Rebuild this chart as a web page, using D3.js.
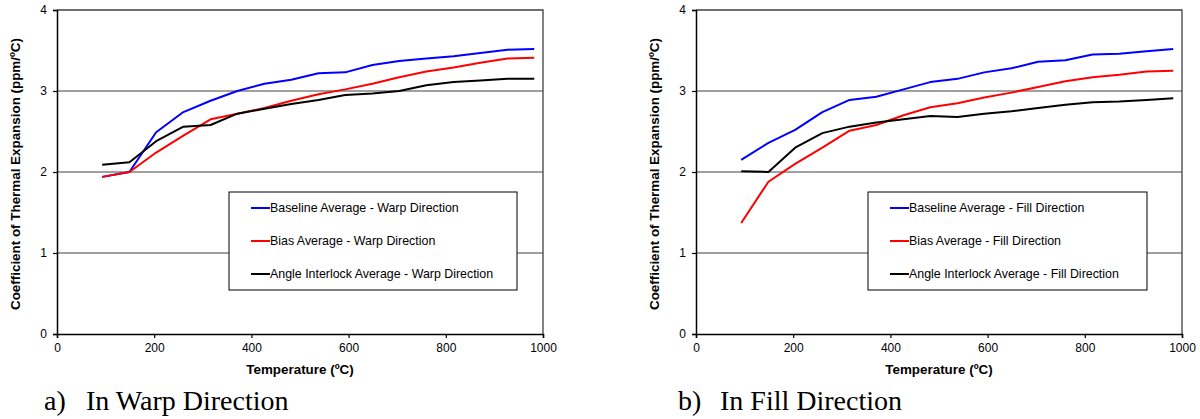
<!DOCTYPE html>
<html>
<head>
<meta charset="utf-8">
<script src="https://cdn.jsdelivr.net/npm/d3@7"></script>
<style>
  body { margin: 0; background: #fff; }
  text { font-family: "Liberation Sans", Arial, sans-serif; }
  .tick text { font-size: 12px; fill: #000; }
  .axis-title { font-size: 13.4px; font-weight: bold; }
  .legend text { font-size: 12.4px; }
  .caption { font-family: "Liberation Serif", "Times New Roman", serif; font-size: 28px; }
</style>
</head>
<body>
<div id="chart"></div>
<script>

// temperatures (ºC) where the averages were taken
var temps = [93, 149, 204, 260, 316, 371, 427, 482, 538, 593, 649, 704, 760, 816, 871, 927, 982];

// warp direction
var baselineWarp = [1.94, 2.00, 2.49, 2.74, 2.88, 3.00, 3.09, 3.14, 3.22, 3.23, 3.32, 3.37, 3.40, 3.43, 3.47, 3.51, 3.52];
var biasWarp     = [1.94, 2.00, 2.24, 2.45, 2.65, 2.72, 2.79, 2.88, 2.96, 3.02, 3.09, 3.17, 3.24, 3.29, 3.35, 3.40, 3.41];
var angleWarp    = [2.09, 2.12, 2.38, 2.56, 2.58, 2.72, 2.78, 2.84, 2.89, 2.95, 2.97, 3.00, 3.07, 3.11, 3.13, 3.15, 3.15];

// fill direction
var baselineFill = [2.15, 2.36, 2.52, 2.74, 2.89, 2.93, 3.02, 3.11, 3.15, 3.23, 3.28, 3.36, 3.38, 3.45, 3.46, 3.49, 3.52];
var biasFill     = [1.37, 1.88, 2.10, 2.30, 2.51, 2.58, 2.70, 2.80, 2.85, 2.92, 2.98, 3.05, 3.12, 3.17, 3.20, 3.24, 3.25];
var angleFill    = [2.01, 2.00, 2.30, 2.48, 2.56, 2.61, 2.65, 2.69, 2.68, 2.72, 2.75, 2.79, 2.83, 2.86, 2.87, 2.89, 2.91];

var xTicks = [0, 200, 400, 600, 800, 1000];
var yTicks = [0, 1, 2, 3, 4];

var warpNames = ["Baseline Average - Warp Direction", "Bias Average - Warp Direction", "Angle Interlock Average - Warp Direction"];
var fillNames = ["Baseline Average - Fill Direction", "Bias Average - Fill Direction", "Angle Interlock Average - Fill Direction"];
var colors = ["#0000ff", "#ff0000", "#000000"];

var width = 486,
    height = 324;

var svg = d3.select("#chart").append("svg")
    .attr("width", 1200)
    .attr("height", 419);

function panel(left, names, series, legendWidth, caption, captionX) {

  var x = d3.scaleLinear()
      .domain([0, 1000])
      .range([0, width]);

  var y = d3.scaleLinear()
      .domain([0, 4])
      .range([height, 0]);

  var g = svg.append("g")
      .attr("transform", "translate(" + left + ",10)");

  // gridlines
  g.append("g").selectAll("line")
      .data(yTicks.filter(function(d) { return d > 0 && d < 4; }))
    .enter().append("line")
      .attr("x1", 0)
      .attr("x2", width)
      .attr("y1", function(d) { return y(d); })
      .attr("y2", function(d) { return y(d); })
      .style("stroke", "#808080")
      .style("stroke-width", 1.4);

  // plot frame (top and right)
  g.append("path")
      .attr("d", "M0,0H" + width + "V" + height)
      .style("fill", "none")
      .style("stroke", "#404040")
      .style("stroke-width", 1.3);

  g.append("g")
      .attr("class", "y axis")
      .call(d3.axisLeft(y).tickValues(yTicks).tickSize(4).tickPadding(6).tickFormat(d3.format("d")));

  g.append("g")
      .attr("class", "x axis")
      .attr("transform", "translate(0," + height + ")")
      .call(d3.axisBottom(x).tickValues(xTicks).tickSize(4).tickPadding(5).tickFormat(d3.format("d")));

  g.selectAll(".axis .domain").style("stroke", "#000").style("stroke-width", 1.5);
  g.selectAll(".axis .tick line").style("stroke", "#000").style("stroke-width", 1.2);

  g.append("text")
      .attr("class", "axis-title")
      .attr("x", width / 2)
      .attr("y", height + 40)
      .style("text-anchor", "middle")
      .text("Temperature (ºC)");

  g.append("text")
      .attr("class", "axis-title")
      .attr("transform", "rotate(-90)")
      .attr("x", -height / 2 - 2)
      .attr("y", -37)
      .style("text-anchor", "middle")
      .text("Coefficient of Thermal Expansion (ppm/ºC)");

  var line = d3.line()
      .x(function(d, i) { return x(temps[i]); })
      .y(function(d) { return y(d); });

  g.append("g").selectAll(".series")
      .data(series)
    .enter().append("path")
      .attr("class", "series")
      .attr("d", line)
      .style("fill", "none")
      .style("stroke", function(d, i) { return colors[i]; })
      .style("stroke-width", 2)
      .style("stroke-linejoin", "round");

  // legend
  var legend = g.append("g")
      .attr("class", "legend")
      .attr("transform", "translate(172,182)");

  legend.append("rect")
      .attr("width", legendWidth)
      .attr("height", 98)
      .style("fill", "#fff")
      .style("stroke", "#000")
      .style("stroke-width", 1);

  var item = legend.selectAll(".item")
      .data(names)
    .enter().append("g")
      .attr("class", "item")
      .attr("transform", function(d, i) { return "translate(0," + (16 + i * 33) + ")"; });

  item.append("line")
      .attr("x1", 22)
      .attr("x2", 41)
      .style("stroke", function(d, i) { return colors[i]; })
      .style("stroke-width", 2);

  item.append("text")
      .attr("x", 41)
      .attr("dy", "0.35em")
      .text(function(d) { return d; });

  svg.append("text")
      .attr("class", "caption")
      .attr("x", captionX)
      .attr("y", 410)
      .text(caption[0]);

  svg.append("text")
      .attr("class", "caption")
      .attr("x", captionX + 42)
      .attr("y", 410)
      .text(caption[1]);
}

panel(57, warpNames, [baselineWarp, biasWarp, angleWarp], 288, ["a)", "In Warp Direction"], 44);
panel(696, fillNames, [baselineFill, biasFill, angleFill], 279, ["b)", "In Fill Direction"], 678);

</script>
</body>
</html>
